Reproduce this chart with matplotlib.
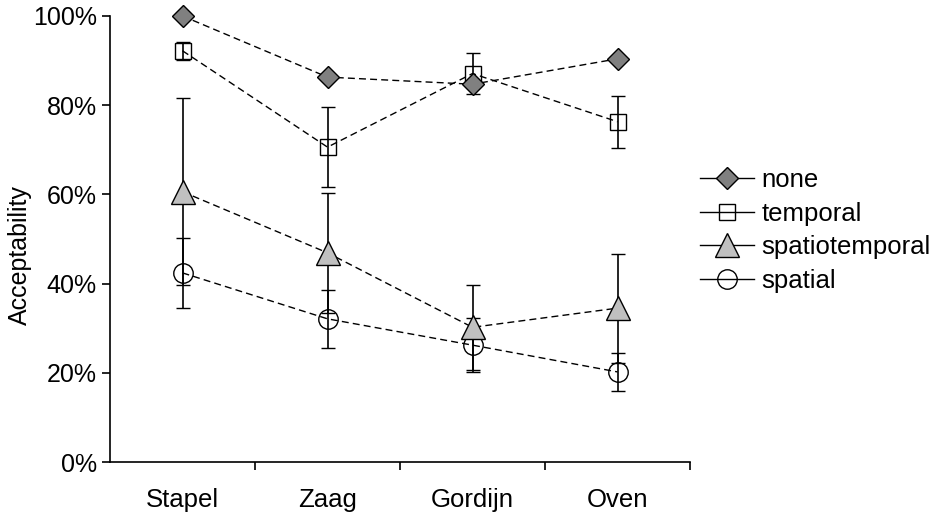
import numpy as np
import matplotlib
matplotlib.use('Agg')
import matplotlib.pyplot as plt
from matplotlib.lines import Line2D

plt.rcParams['font.family'] = ['Liberation Sans', 'DejaVu Sans']

categories = ['Stapel', 'Zaag', 'Gordijn', 'Oven']

none_vals = [100.0, 86.3, 84.7, 90.4]

temporal_vals = [92.2, 70.6, 87.1, 76.3]
temporal_err = [2.0, 9.0, 4.7, 5.8]

spatiotemporal_vals = [60.6, 46.9, 30.2, 34.5]
spatiotemporal_err = [21.0, 13.5, 9.5, 12.2]

spatial_vals = [42.4, 32.1, 26.2, 20.2]
spatial_err = [7.8, 6.5, 6.0, 4.2]

x = np.arange(1, len(categories) + 1)

W, H = 938, 517
fig = plt.figure(figsize=(W / 100, H / 100), dpi=100)
# axes box in pixels: left 110, right 690, top 16, bottom 462
ax = fig.add_axes([110 / W, (H - 462) / H, 580 / W, 446 / H])

line_kw = dict(color='black', linestyle=(0, (5, 3)), linewidth=1.0,
               ecolor='black', elinewidth=1.2, capsize=5, capthick=1.2,
               markeredgecolor='black', markeredgewidth=1.0, clip_on=False)

ax.errorbar(x, spatial_vals, yerr=spatial_err, marker='o', markersize=14,
            markerfacecolor='none', zorder=2, **line_kw)
ax.errorbar(x, spatiotemporal_vals, yerr=spatiotemporal_err, marker='^', markersize=17,
            markerfacecolor='#c0c0c0', zorder=3, **line_kw)
ax.errorbar(x, temporal_vals, yerr=temporal_err, marker='s', markersize=11,
            markerfacecolor='none', zorder=4, **line_kw)
ax.plot(x, none_vals, color='black', linestyle=(0, (5, 3)), linewidth=1.0,
        marker='D', markersize=11, markerfacecolor='#808080',
        markeredgecolor='black', markeredgewidth=1.0, zorder=5, clip_on=False)

ax.set_xlim(0.5, 4.5)
ax.set_ylim(0, 100)
ax.set_yticks([0, 20, 40, 60, 80, 100])
ax.set_yticklabels(['0%', '20%', '40%', '60%', '80%', '100%'], fontsize=18)
ax.set_ylabel('Acceptability', fontsize=18)
ax.yaxis.set_label_coords(-0.134, 0.465)

ax.set_xticks([1.5, 2.5, 3.5, 4.5])
ax.set_xticklabels([])
ax.set_xticks(x, minor=True)
ax.set_xticklabels(categories, minor=True, fontsize=18.5)
ax.tick_params(axis='x', which='major', length=6, width=1.2, direction='out')
ax.tick_params(axis='x', which='minor', length=0, pad=19)
ax.tick_params(axis='y', length=6, width=1.2, direction='out', pad=3.5)

for side in ['top', 'right']:
    ax.spines[side].set_visible(False)
for side in ['left', 'bottom']:
    ax.spines[side].set_linewidth(1.2)

handles = [
    Line2D([], [], color='black', linewidth=1.0, marker='D', markersize=11,
           markerfacecolor='#808080', markeredgecolor='black'),
    Line2D([], [], color='black', linewidth=1.0, marker='s', markersize=11,
           markerfacecolor='none', markeredgecolor='black'),
    Line2D([], [], color='black', linewidth=1.0, marker='^', markersize=17,
           markerfacecolor='#c0c0c0', markeredgecolor='black'),
    Line2D([], [], color='black', linewidth=1.0, marker='o', markersize=14,
           markerfacecolor='none', markeredgecolor='black'),
]
ax.legend(handles, ['none', 'temporal', 'spatiotemporal', 'spatial'],
          loc='center left', bbox_to_anchor=(1.017, 0.519), frameon=False,
          fontsize=18.5, handlelength=2.1, handletextpad=0.3, labelspacing=0.38,
          borderpad=0, borderaxespad=0)

fig.savefig('out.png', dpi=100)
